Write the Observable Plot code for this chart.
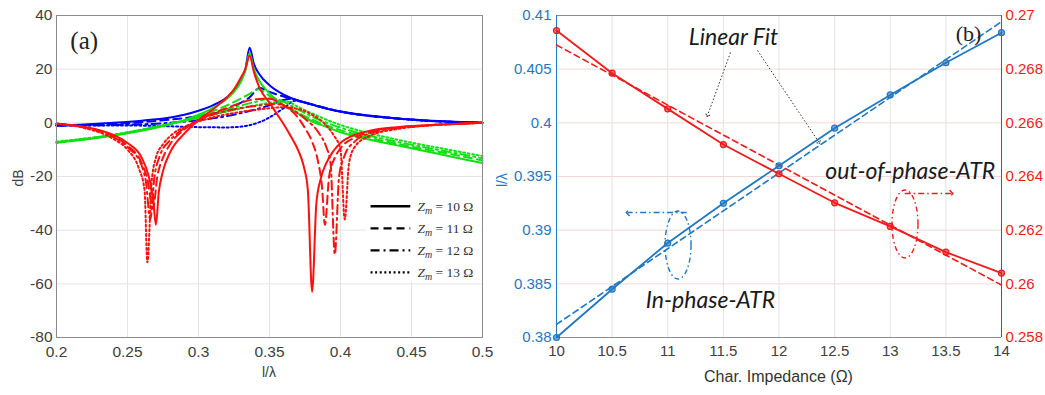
<!DOCTYPE html>
<html><head><meta charset="utf-8">
<script src="https://cdn.jsdelivr.net/npm/d3@7"></script>
<script src="https://cdn.jsdelivr.net/npm/@observablehq/plot@0.6"></script>
<style>
body{margin:0;background:#fff;}
#wrap{display:flex;width:1045px;height:395px;overflow:hidden;}
svg{display:block;}
</style></head><body><div id="wrap"></div>
<script>
// ---------- Panel (a): dB vs l/lambda ----------
const xTicksA = [0.2, 0.25, 0.3, 0.35, 0.4, 0.45, 0.5];
const yTicksA = [-80, -60, -40, -20, 0, 20, 40];

const B10 = [[0.20,-1.0],[0.22,-0.6],[0.24,0.0],[0.26,0.8],[0.28,2.0],[0.29,3.0],[0.30,4.5],[0.31,6.5],[0.32,9.5],[0.325,12],[0.33,16],[0.333,20],[0.336,28],[0.339,22],[0.343,18],[0.35,14],[0.36,10.5],[0.37,8.3],[0.38,6.8],[0.39,5.3],[0.40,4.2],[0.42,2.7],[0.44,1.6],[0.46,0.9],[0.48,0.4],[0.50,0.0]];
const B11 = [[0.20,-1.0],[0.24,-0.4],[0.28,1.2],[0.30,2.5],[0.32,5.0],[0.33,7.5],[0.336,9.5],[0.343,13],[0.35,11.5],[0.36,9.8],[0.37,8.3],[0.38,6.8],[0.40,4.2],[0.44,1.6],[0.50,0.0]];
const B12 = [[0.20,-1.0],[0.24,-0.8],[0.28,0.0],[0.30,1.0],[0.32,2.5],[0.34,5.0],[0.35,6.5],[0.36,8.5],[0.365,9.0],[0.37,8.3],[0.38,6.8],[0.40,4.2],[0.44,1.6],[0.50,0.0]];
const B13 = [[0.20,-1.0],[0.25,-1.0],[0.28,-1.3],[0.30,-1.6],[0.32,-1.7],[0.33,-1.4],[0.34,-0.3],[0.35,2.0],[0.36,5.5],[0.368,8.2],[0.375,7.6],[0.38,6.8],[0.40,4.2],[0.44,1.6],[0.50,0.0]];

const G10 = [[0.20,-7.5],[0.22,-6.2],[0.24,-4.8],[0.26,-3.0],[0.28,-0.5],[0.29,1.0],[0.30,3.0],[0.31,5.5],[0.32,9.0],[0.325,11.5],[0.33,15.5],[0.333,19.5],[0.336,26],[0.339,20],[0.343,15.5],[0.35,11],[0.36,6.5],[0.37,3.5],[0.38,0.5],[0.39,-1.5],[0.40,-3.5],[0.42,-6.2],[0.44,-8.4],[0.46,-10.6],[0.48,-12.8],[0.50,-15.0]];
const G11 = [[0.20,-7.3],[0.24,-4.6],[0.28,-0.4],[0.30,2.5],[0.32,6.5],[0.335,10.5],[0.342,12.5],[0.35,10],[0.36,6.5],[0.37,3.8],[0.38,1.2],[0.40,-2.7],[0.42,-5.5],[0.44,-7.8],[0.46,-9.9],[0.48,-11.9],[0.50,-14.0]];
const G12 = [[0.20,-7.2],[0.24,-4.5],[0.28,-0.4],[0.30,2.0],[0.32,5.0],[0.34,7.8],[0.352,9.2],[0.36,7.8],[0.37,5.0],[0.38,2.3],[0.40,-1.8],[0.42,-4.7],[0.44,-7.1],[0.46,-9.2],[0.48,-11.2],[0.50,-13.2]];
const G13 = [[0.20,-7.0],[0.24,-4.4],[0.28,-0.4],[0.30,1.8],[0.32,4.2],[0.34,6.5],[0.355,7.8],[0.362,8.0],[0.37,6.0],[0.38,3.5],[0.40,-0.8],[0.42,-3.8],[0.44,-6.3],[0.46,-8.4],[0.48,-10.4],[0.50,-12.4]];

const R10 = [[0.20,-0.3],[0.22,-1.5],[0.24,-4.5],[0.25,-7.5],[0.26,-13],[0.265,-20],[0.268,-28],[0.270,-38],[0.272,-26],[0.275,-18],[0.28,-11],[0.29,-4],[0.30,1],[0.31,5],[0.32,9.5],[0.325,12.5],[0.33,17],[0.333,20],[0.336,25],[0.339,19],[0.343,13],[0.35,7.5],[0.355,3.5],[0.36,-0.5],[0.365,-5],[0.37,-10],[0.374,-16],[0.377,-25],[0.380,-63],[0.383,-30],[0.386,-21],[0.39,-15],[0.395,-10.5],[0.40,-7.5],[0.41,-4.5],[0.42,-3.0],[0.44,-1.6],[0.46,-0.9],[0.48,-0.4],[0.50,0]];
const R11 = [[0.20,-0.3],[0.22,-1.7],[0.24,-5],[0.25,-8.5],[0.26,-15],[0.264,-21],[0.268,-32],[0.271,-20],[0.275,-13],[0.28,-8],[0.29,-2.5],[0.30,1],[0.31,3.5],[0.32,5.5],[0.33,7.5],[0.34,8.8],[0.35,9.0],[0.36,6.5],[0.37,2],[0.375,-2],[0.38,-7],[0.384,-14],[0.387,-24],[0.389,-38],[0.392,-20],[0.396,-13],[0.40,-9.5],[0.41,-5.5],[0.42,-3.5],[0.44,-1.8],[0.46,-1.0],[0.48,-0.4],[0.50,0]];
const R12 = [[0.20,-0.3],[0.22,-1.8],[0.24,-5.3],[0.25,-9],[0.26,-16],[0.263,-22],[0.266,-36],[0.269,-20],[0.273,-12],[0.28,-6.5],[0.29,-2],[0.30,1],[0.31,3],[0.32,4.5],[0.34,6.3],[0.355,7.0],[0.365,5.2],[0.375,1.5],[0.385,-4],[0.39,-9],[0.393,-15],[0.396,-49],[0.399,-20],[0.403,-12],[0.41,-7],[0.42,-4],[0.44,-2],[0.46,-1],[0.48,-0.4],[0.50,0]];
const R13 = [[0.20,-0.3],[0.22,-2],[0.24,-6],[0.25,-10],[0.258,-17],[0.262,-25],[0.264,-52],[0.267,-22],[0.27,-13],[0.275,-8],[0.28,-5],[0.29,-1.5],[0.30,0.5],[0.31,2],[0.32,3.2],[0.34,4.8],[0.36,5.8],[0.37,5.2],[0.38,3],[0.39,-1],[0.395,-4.5],[0.40,-10],[0.403,-36],[0.406,-15],[0.41,-9],[0.42,-5],[0.44,-2.3],[0.46,-1.1],[0.48,-0.5],[0.50,0]];

const legendLabels = ["10", "11", "12", "13"];

// ---------- Panel (b): l/lambda vs characteristic impedance ----------
const impedance = [10, 10.5, 11, 11.5, 12, 12.5, 13, 13.5, 14];
const inPhase   = [0.3800, 0.3845, 0.3888, 0.3925, 0.3960, 0.3995, 0.4026, 0.4056, 0.4084];
const outPhase  = [0.26944, 0.26785, 0.26652, 0.26519, 0.26410, 0.26302, 0.26214, 0.26118, 0.26040];
const leftTicks  = [0.38, 0.385, 0.39, 0.395, 0.4, 0.405, 0.41];
const rightTicks = [0.258, 0.26, 0.262, 0.264, 0.266, 0.268, 0.27];
const xTicksB = [10, 10.5, 11, 11.5, 12, 12.5, 13, 13.5, 14];

// ---------- styles ----------
const dashes = {"10": null, "11": "8,5", "12": "9,4,2,4", "13": "2,2.6"};
const BLUE = "#0000ff", GREEN = "#10e010", RED = "#ff1010";
const BLUEB = "#1f78c1", REDB = "#ee1c1c";
const sans = "Liberation Sans, Arial, sans-serif";
const serif = "Liberation Serif, Times New Roman, serif";
const italicFont = "Lato, Open Sans, sans-serif";

const wrap = document.getElementById("wrap");

// ===== Panel (a) =====
const seriesA = [
  [B10, BLUE, "10"], [B11, BLUE, "11"], [B12, BLUE, "12"], [B13, BLUE, "13"],
  [G10, GREEN, "10"], [G11, GREEN, "11"], [G12, GREEN, "12"], [G13, GREEN, "13"],
  [R10, RED, "10"], [R11, RED, "11"], [R12, RED, "12"], [R13, RED, "13"]
];
const fmtA = d => String(+d.toFixed(2));
const svgA = Plot.plot({
  width: 493, height: 395,
  marginLeft: 56, marginRight: 11, marginTop: 15, marginBottom: 58,
  x: {domain: [0.2, 0.5]},
  y: {domain: [-80, 40]},
  style: {fontFamily: sans, fontSize: "15.5px", color: "#404040", background: "#fff"},
  marks: [
    Plot.gridX(xTicksA, {stroke: "#e4e4e4", strokeOpacity: 1}),
    Plot.gridY(yTicksA, {stroke: "#e4e4e4", strokeOpacity: 1}),
    ...seriesA.map(([data, color, z]) => Plot.line(data, {
      x: d => d[0], y: d => d[1], stroke: color, strokeWidth: 2,
      strokeDasharray: dashes[z], curve: "monotone-x"
    })),
    Plot.frame({stroke: "#8c8c8c"}),
    Plot.axisX(xTicksA, {tickSize: 0, tickPadding: 8, tickFormat: fmtA, label: null}),
    Plot.axisY(yTicksA, {tickSize: 0, tickPadding: 4, tickFormat: d => String(d), label: null}),
    Plot.text(["(a)"], {x: 0.2195, y: 30.5, text: d => d, fontFamily: serif, fontSize: 25, fill: "#222"})
  ]
});
wrap.appendChild(svgA);
{
  const sx = svgA.scale("x"), sy = svgA.scale("y");
  const g = d3.select(svgA).append("g").attr("text-anchor", "start");
  // white legend box
  g.append("rect").attr("x", sx.apply(0.4185)).attr("y", sy.apply(-26))
    .attr("width", sx.apply(0.4993) - sx.apply(0.4185)).attr("height", sy.apply(-59.3) - sy.apply(-26))
    .attr("fill", "#fff");
  const legY = [-31.3, -39.5, -47.7, -55.9];
  legendLabels.forEach((z, i) => {
    const yy = sy.apply(legY[i]);
    const ln = g.append("line").attr("x1", sx.apply(0.4215)).attr("x2", sx.apply(0.4495))
      .attr("y1", yy).attr("y2", yy).attr("stroke", "#000").attr("stroke-width", 2.4);
    if (dashes[z]) ln.attr("stroke-dasharray", dashes[z]);
    const t = g.append("text").attr("x", sx.apply(0.4545)).attr("y", yy).attr("dy", "0.35em")
      .attr("text-anchor", "start")
      .attr("font-family", serif).attr("font-size", 13.5).attr("fill", "#333");
    t.append("tspan").attr("font-style", "italic").text("Z");
    t.append("tspan").attr("font-style", "italic").attr("font-size", 10).attr("dy", 3).text("m");
    t.append("tspan").attr("dy", -3).text(" = " + z + " \u03A9");
  });
  // axis labels
  d3.select(svgA).append("text").attr("x", 269).attr("y", 377).attr("text-anchor", "middle")
    .attr("font-family", sans).attr("font-size", 14).attr("fill", "#404040").text("l/\u03BB");
  d3.select(svgA).append("text").attr("transform", "translate(18,178) rotate(-90)").attr("text-anchor", "middle")
    .attr("dy", "0.35em")
    .attr("font-family", sans).attr("font-size", 14).attr("fill", "#404040").text("dB");
}

// ===== Panel (b) =====
const toLeft = v => 0.38 + (v - 0.258) * 2.5;
const toRight = v => 0.258 + (v - 0.38) / 2.5;
const fmt3 = d => String(+d.toFixed(3));
const inRows = impedance.map((x, i) => ({x, y: inPhase[i]}));
const outRows = impedance.map((x, i) => ({x, y: toLeft(outPhase[i])}));

const fitArrows = [
  {x1: 11.564, y1: 0.40655, x2: 11.357, y2: 0.40068},
  {x1: 11.807, y1: 0.40674, x2: 12.36, y2: 0.39817}
];
const sideArrows = [
  {x1: 11.17, y1: 0.39165, x2: 10.64, y2: 0.39165, c: BLUEB},
  {x1: 13.13, y1: 0.39342, x2: 13.55, y2: 0.39342, c: REDB}
];
const ellipses = [
  {cx: 11.097, cy: 0.38857, c: BLUEB},
  {cx: 13.137, cy: 0.39053, c: REDB}
];
const labelsB = [
  {x: 11.591, y: 0.40795, t: "Linear Fit"},
  {x: 13.18, y: 0.39547, t: "out-of-phase-ATR"},
  {x: 11.384, y: 0.38345, t: "In-phase-ATR"}
];

const svgB = Plot.plot({
  width: 552, height: 395,
  marginLeft: 63, marginRight: 44, marginTop: 15, marginBottom: 58,
  x: {domain: [10, 14]},
  y: {domain: [0.38, 0.41]},
  style: {fontFamily: sans, fontSize: "15px", color: "#404040", background: "#fff"},
  marks: [
    Plot.gridX(xTicksB, {stroke: "#e2e2e2", strokeOpacity: 1}),
    Plot.gridY(leftTicks, {stroke: "#f6d6d6", strokeOpacity: 1}),
    Plot.ruleY([0.38, 0.41], {stroke: "#8c8c8c"}),
    Plot.ruleX([10], {stroke: BLUEB}),
    Plot.ruleX([14], {stroke: REDB}),
    Plot.linearRegressionY(inRows, {x: "x", y: "y", stroke: BLUEB, strokeWidth: 1.6, strokeDasharray: "6,4", ci: 0}),
    Plot.linearRegressionY(outRows, {x: "x", y: "y", stroke: REDB, strokeWidth: 1.6, strokeDasharray: "6,4", ci: 0}),
    Plot.line(inRows, {x: "x", y: "y", stroke: BLUEB, strokeWidth: 1.8}),
    Plot.line(outRows, {x: "x", y: "y", stroke: REDB, strokeWidth: 1.8}),
    Plot.dot(inRows, {x: "x", y: "y", r: 3, fill: BLUEB, fillOpacity: 0.6, stroke: BLUEB, strokeWidth: 1.2}),
    Plot.dot(outRows, {x: "x", y: "y", r: 3, fill: REDB, fillOpacity: 0.6, stroke: REDB, strokeWidth: 1.2}),
    Plot.link(fitArrows, {x1: "x1", y1: "y1", x2: "x2", y2: "y2", stroke: "#333", strokeWidth: 1, strokeDasharray: "1.5,2", markerEnd: "arrow"}),
    Plot.link(sideArrows, {x1: "x1", y1: "y1", x2: "x2", y2: "y2", stroke: d => d.c, strokeWidth: 1.5, strokeDasharray: "6,3,1.5,3", markerEnd: "arrow"}),
    Plot.text(labelsB, {x: "x", y: "y", text: "t", fontFamily: italicFont, fontStyle: "italic", fontSize: 23, fill: "#1a1a1a"}),
    Plot.text(["(b)"], {x: 13.703, y: 0.40832, text: d => d, fontFamily: serif, fontSize: 22, fill: "#222"}),
    Plot.axisX(xTicksB, {tickSize: 0, tickPadding: 8, tickFormat: d => String(d), label: null}),
    Plot.axisY(leftTicks, {tickSize: 0, tickPadding: 5, tickFormat: fmt3, color: BLUEB, label: null}),
    Plot.axisY(rightTicks.map(toLeft), {anchor: "right", tickSize: 0, tickPadding: 4, tickFormat: d => fmt3(toRight(d)), color: REDB, label: null})
  ]
});
wrap.appendChild(svgB);
{
  const sx = svgB.scale("x"), sy = svgB.scale("y");
  const g = d3.select(svgB).append("g");
  ellipses.forEach(e => {
    g.append("ellipse").attr("cx", sx.apply(e.cx)).attr("cy", sy.apply(e.cy))
      .attr("rx", 13).attr("ry", 34).attr("fill", "none").attr("stroke", e.c)
      .attr("stroke-width", 1.4).attr("stroke-dasharray", "5,3,1.5,3");
  });
  d3.select(svgB).append("text").attr("x", 285.5).attr("y", 382).attr("text-anchor", "middle")
    .attr("font-family", sans).attr("font-size", 16).attr("fill", "#333").text("Char. Impedance (\u03A9)");
  d3.select(svgB).append("text").attr("transform", "translate(9,180) rotate(-90)").attr("text-anchor", "middle")
    .attr("dy", "0.35em")
    .attr("font-family", sans).attr("font-size", 14).attr("fill", BLUEB).text("l/\u03BB");
}
</script></body></html>
